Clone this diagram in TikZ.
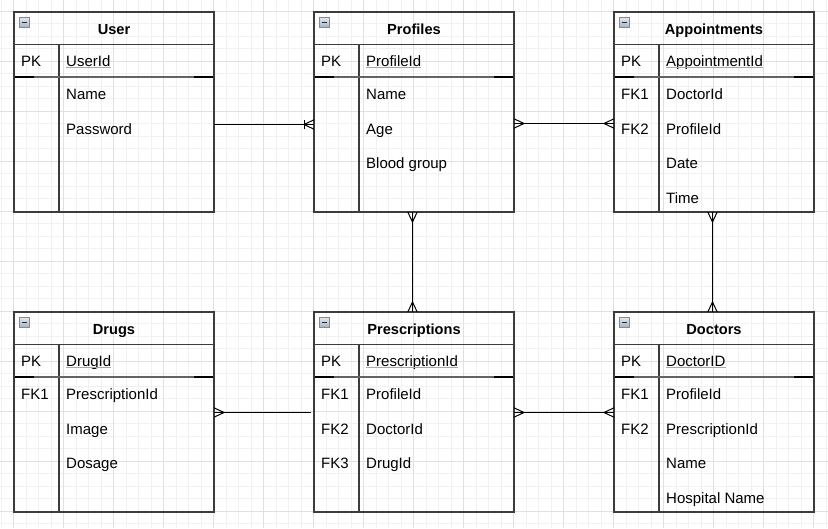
\documentclass[tikz,border=0pt]{standalone}
\usepackage{fontspec}
\setmainfont{Liberation Sans}
\usetikzlibrary{calc}
\definecolor{gridminor}{HTML}{F1F1F1}
\definecolor{gridmajor}{HTML}{E0E0E0}
\definecolor{boxline}{HTML}{3C3C3C}
\definecolor{ulgray}{HTML}{A8A8A8}
\definecolor{icontop}{HTML}{E2E9F0}
\definecolor{iconbot}{HTML}{A3B3C4}
\definecolor{iconline}{HTML}{7D8C9C}

\tikzset{
  tbl/.style={draw=boxline, line width=1.3pt, minimum width=200pt, minimum height=200pt, inner sep=0pt, outer sep=0pt},
  sep/.style={draw=boxline, line width=1.2pt},
  pksep/.style={draw=boxline!80, line width=1.3pt},
  pkend/.style={draw=black, line width=1.8pt},
  fld/.style={anchor=base west, inner sep=0pt, font=\fontsize{15}{18}\selectfont},
  ttl/.style={anchor=base, inner sep=0pt, font=\fontsize{14.6}{17}\selectfont\bfseries},
  ul/.style={draw=ulgray, line width=1.3pt},
  conn/.style={draw=black, line width=1pt},
  crow/.pic={\draw[conn] (0,4.7) -- (-10,0) -- (0,-4.7);},
  onemany/.pic={\draw[conn] (0,4.7) -- (-10,0) -- (0,-4.7); \draw[conn] (-10,4.7) -- (-10,-4.7);}
}

\newcommand\ertable[6]{%
  \draw[sep] (#2,#3+32.5) -- (#2+200,#3+32.5);
  \draw[sep] (#2+45,#3+32.5) -- (#2+45,#3+200);
  \draw[pksep] (#2,#3+65) -- (#2+200,#3+65);
  \draw[pkend] (#2,#3+65) -- (#2+20,#3+65);
  \draw[pkend] (#2+180,#3+65) -- (#2+200,#3+65);
  \draw[draw=iconline, line width=0.7pt, top color=icontop, bottom color=iconbot] (#2+5.3,#3+5.3) rectangle (#2+15.3,#3+15.3);
  \draw[line width=1.3pt, black!85] (#2+7.6,#3+10.3) -- (#2+13,#3+10.3);
  \node[tbl, anchor=north west] (#1) at (#2,#3) {};
  \node[ttl] (#1-title) at (#2+100,#3+22) {#4};
  \node[fld] (#1-pkk) at (#2+7,#3+54) {PK};
  \node[fld] (#1-pk) at (#2+52,#3+54) {#5};
  \draw[ul] ([yshift=-1.6pt]#1-pk.base west) -- ([yshift=-1.6pt]#1-pk.base east);
  \foreach [count=\n] \k/\v in {#6} {
    \pgfmathsetmacro\yy{#3+87.5+34.7*(\n-1)}
    \node[fld] (#1-k\n) at (#2+7,\yy) {\k};
    \node[fld] (#1-f\n) at (#2+52,\yy) {\v};
  }%
}

\begin{document}
\begin{tikzpicture}[x=1pt,y=-1pt]
\useasboundingbox (0,0) rectangle (828,528);
\fill[white] (0,0) rectangle (828,528);
% grid
\foreach \k in {-1,...,65} { \draw[gridminor, line width=0.9pt] (13.5+12.5*\k,0) -- (13.5+12.5*\k,528); }
\foreach \k in {-1,...,41} { \draw[gridminor, line width=0.9pt] (0,11+12.5*\k) -- (828,11+12.5*\k); }
\foreach \k in {0,...,16} { \draw[gridmajor, line width=0.9pt] (13.5+50*\k,0) -- (13.5+50*\k,528); }
\foreach \k in {0,...,10} { \draw[gridmajor, line width=0.9pt] (0,11+50*\k) -- (828,11+50*\k); }

% tables
\ertable{user}{14}{12}{User}{UserId}{/Name, /Password}
\ertable{profiles}{314}{12}{Profiles}{ProfileId}{/Name, /Age, /Blood group}
\ertable{appts}{614}{12}{Appointments}{AppointmentId}{FK1/DoctorId, FK2/ProfileId, /Date, /Time}
\ertable{drugs}{14}{312}{Drugs}{DrugId}{FK1/PrescriptionId, /Image, /Dosage}
\ertable{presc}{314}{312}{Prescriptions}{PrescriptionId}{FK1/ProfileId, FK2/DoctorId, FK3/DrugId}
\ertable{doctors}{614}{312}{Doctors}{DoctorID}{FK1/ProfileId, FK2/PrescriptionId, /Name, /Hospital Name}

% connectors
\draw[conn] ([yshift=-12.5pt]user.east) -- ([yshift=-12.5pt]profiles.west);
\pic at ([yshift=-12.5pt]profiles.west) {onemany};

\draw[conn] ([yshift=-11.5pt]profiles.east) -- ([yshift=-11.5pt]appts.west);
\pic[rotate=180] at ([yshift=-11.5pt]profiles.east) {crow};
\pic at ([yshift=-11.5pt]appts.west) {crow};

\draw[conn] ([xshift=-1.5pt]profiles.south) -- ([xshift=-1.5pt]presc.north);
\pic[rotate=90] at ([xshift=-1.5pt]profiles.south) {crow};
\pic[rotate=-90] at ([xshift=-1.5pt]presc.north) {crow};

\draw[conn] ([xshift=-1.5pt]appts.south) -- ([xshift=-1.5pt]doctors.north);
\pic[rotate=90] at ([xshift=-1.5pt]appts.south) {crow};
\pic[rotate=-90] at ([xshift=-1.5pt]doctors.north) {crow};

\coordinate (dp) at ([xshift=-3pt,yshift=-0.5pt]presc.west);
\draw[conn] ([yshift=-0.5pt]drugs.east) -- (dp);
\pic[rotate=180] at ([yshift=-0.5pt]drugs.east) {crow};

\draw[conn] ([yshift=-0.5pt]presc.east) -- ([yshift=-0.5pt]doctors.west);
\pic[rotate=180] at ([yshift=-0.5pt]presc.east) {crow};
\pic at ([yshift=-0.5pt]doctors.west) {crow};
\end{tikzpicture}
\end{document}
